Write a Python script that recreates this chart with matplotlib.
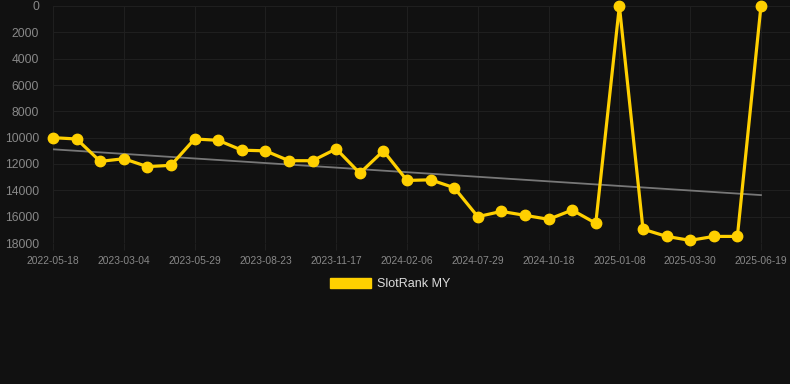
import matplotlib
matplotlib.use("Agg")
import matplotlib.pyplot as plt
import numpy as np
from matplotlib.patches import Patch

dates = ["2022-05-18", "2022-08-10", "2022-11-02", "2023-03-04", "2023-03-30", "2023-04-25",
         "2023-05-29", "2023-06-27", "2023-07-25", "2023-08-23", "2023-09-20", "2023-10-19",
         "2023-11-17", "2023-12-15", "2024-01-11", "2024-02-06", "2024-04-10", "2024-06-05",
         "2024-07-29", "2024-08-25", "2024-09-21", "2024-10-18", "2024-11-14", "2024-12-11",
         "2025-01-08", "2025-02-04", "2025-03-03", "2025-03-30", "2025-04-26", "2025-05-23",
         "2025-06-19"]
ranks = [10000, 10100, 11800, 11600, 12200, 12100,
         10100, 10200, 10950, 11000, 11750, 11750,
         10850, 12700, 11000, 13250, 13200, 13800,
         16000, 15600, 15900, 16200, 15500, 16500,
         0, 16950, 17500, 17800, 17500, 17500,
         0]
series_name = "SlotRank MY"
yticks = [0, 2000, 4000, 6000, 8000, 10000, 12000, 14000, 16000, 18000]

bg = "#111111"
yellow = "#FFD000"
label_col = "#888888"
grid_col = "#1f1f1f"

fig = plt.figure(figsize=(7.9, 3.84), dpi=100, facecolor=bg)
ax = fig.add_axes([53/790, (384-243)/384, (790-53)/790, 237/384])
ax.set_facecolor(bg)

x = np.arange(len(ranks))
coef = np.polyfit(x, ranks, 1)
ax.plot(x, np.polyval(coef, x), color="#777777", lw=1.3, zorder=2)
ax.plot(x, ranks, color=yellow, lw=2.3, marker="o", markersize=7.5,
        markerfacecolor=yellow, markeredgecolor=yellow, zorder=3, clip_on=False)

ax.set_xlim(0, 31.23)
ax.set_ylim(18000, 0)
ax.set_yticks(yticks)
ax.set_yticklabels([str(v) for v in yticks])
tick_idx = list(range(0, len(dates), 3))
ax.set_xticks(tick_idx)
ax.set_xticklabels([dates[i] for i in tick_idx])

for s in ax.spines.values():
    s.set_visible(False)
ax.grid(True, color=grid_col, lw=0.8)
ax.set_axisbelow(True)
ax.tick_params(axis="y", length=0, pad=10, labelsize=8.7, labelcolor=label_col, labelfontfamily="Liberation Sans")
ax.tick_params(axis="x", length=5, color=grid_col, pad=4, labelsize=7.4, labelcolor=label_col, labelfontfamily="Liberation Sans")

leg = fig.legend(handles=[Patch(facecolor=yellow, edgecolor=yellow, label=series_name)],
                 loc="center", bbox_to_anchor=(390/790, 1 - 284/384), frameon=False,
                 handlelength=3.3, handleheight=0.9, handletextpad=0.5,
                 prop={"family": "Liberation Sans", "size": 9})
for t in leg.get_texts():
    t.set_color("#dddddd")

fig.savefig("out.png", dpi=100, facecolor=bg)
